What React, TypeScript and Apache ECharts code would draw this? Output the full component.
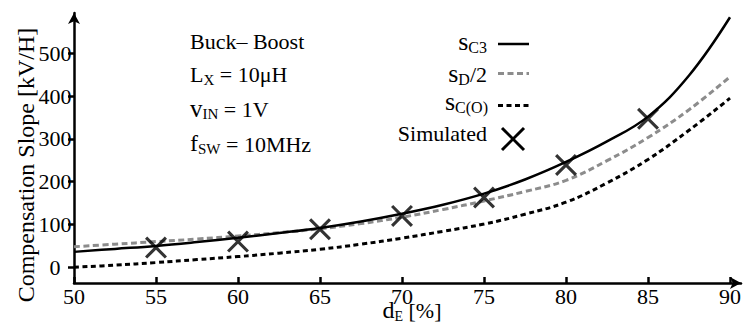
import React, { useEffect, useRef } from "react";
import * as echarts from "echarts";

const FONT = '"Liberation Serif", "Times New Roman", serif';

// Duty cycle d_E [%] sample points of the analytic curves
const X_VALUES = [50, 52.5, 55, 57.5, 60, 62.5, 65, 67.5, 70, 72.5, 75, 77.5, 80, 82.5, 85, 87.5, 90];
// s_C3 (solid black)
const S_C3 = [36, 43, 50, 59, 69, 80, 92, 107, 125, 146, 172, 205, 246, 294, 352, 448, 584];
// s_D/2 (grey dashed)
const S_D_HALF = [48, 54, 60, 66, 73, 81, 90, 102, 117, 135, 155, 177, 203, 249, 303, 368, 445];
// s_C(O) (black dashed)
const S_CO = [0, 5, 11, 18, 25, 33, 42, 54, 68, 84, 101, 124, 152, 197, 252, 320, 395];
// Simulated points
const SIM_X = [55, 60, 65, 70, 75, 80, 85];
const SIM_Y = [46, 60, 89, 120, 163, 239, 347];

const X_TICKS = [50, 55, 60, 65, 70, 75, 80, 85, 90];
const Y_TICKS = [0, 100, 200, 300, 400, 500];

const X_SYMBOL = "path://M0,1L1,0L10,9L9,10Z M9,0L10,1L1,10L0,9Z";

let measureCtx: CanvasRenderingContext2D | null = null;
function tw(text: string, size: number): number {
  if (!measureCtx) measureCtx = document.createElement("canvas").getContext("2d");
  measureCtx!.font = `${size}px "Liberation Serif"`;
  return measureCtx!.measureText(text).width;
}

type Seg = { t: string; size: number; dy?: number };
function richText(x: number, baseline: number, segs: Seg[], align: "left" | "right" | "center" = "left") {
  const widths = segs.map((s) => tw(s.t, s.size));
  const total = widths.reduce((a, b) => a + b, 0);
  let cx = align === "right" ? x - total : align === "center" ? x - total / 2 : x;
  const els: any[] = [];
  segs.forEach((s, i) => {
    els.push({
      type: "text",
      x: cx,
      y: baseline + (s.dy || 0) - 0.3375 * s.size,
      silent: true,
      style: {
        text: s.t,
        fontSize: s.size,
        fontFamily: FONT,
        fill: "#000",
        align: "left",
        verticalAlign: "middle",
      },
    });
    cx += widths[i];
  });
  return els;
}

export default function App() {
  const ref = useRef<HTMLDivElement>(null);
  useEffect(() => {
    const chart = echarts.init(ref.current!, null, { renderer: "svg" });

    const graphics: any[] = [];
    // y axis name
    graphics.push({
      type: "text",
      x: 26,
      y: 165,
      rotation: Math.PI / 2,
      silent: true,
      style: {
        text: "Compensation Slope [kV/H]",
        fontSize: 24,
        fontFamily: FONT,
        fill: "#000",
        align: "center",
        verticalAlign: "middle",
      },
    });
    // x axis name
    graphics.push(
      ...richText(412, 318, [
        { t: "d", size: 24 },
        { t: "E", size: 14, dy: 3 },
        { t: " [%]", size: 22 },
      ], "center")
    );
    // annotation block
    graphics.push(...richText(190, 49, [{ t: "Buck– Boost", size: 22 }]));
    graphics.push(
      ...richText(190, 82, [
        { t: "L", size: 22 },
        { t: "X", size: 15, dy: 3 },
        { t: " = 10μH", size: 22 },
      ])
    );
    graphics.push(
      ...richText(190, 116.5, [
        { t: "v", size: 25 },
        { t: "IN", size: 15, dy: 3 },
        { t: " = 1V", size: 22 },
      ])
    );
    graphics.push(
      ...richText(190, 151.5, [
        { t: "f", size: 24 },
        { t: "SW", size: 15, dy: 3 },
        { t: " = 10MHz", size: 22 },
      ])
    );
    // legend
    graphics.push(
      ...richText(487, 50, [
        { t: "s", size: 26 },
        { t: "C3", size: 16, dy: 3 },
      ], "right")
    );
    graphics.push(
      ...richText(487, 82, [
        { t: "s", size: 26 },
        { t: "D", size: 16, dy: 3 },
        { t: "/2", size: 22 },
      ], "right")
    );
    graphics.push(
      ...richText(488, 110, [
        { t: "s", size: 26 },
        { t: "C(O)", size: 16, dy: 3 },
      ], "right")
    );
    graphics.push(...richText(487, 141, [{ t: "Simulated", size: 22 }], "right"));
    graphics.push({
      type: "line",
      silent: true,
      shape: { x1: 498, y1: 44, x2: 529, y2: 44 },
      style: { stroke: "#000", lineWidth: 2.5 },
    });
    graphics.push({
      type: "line",
      silent: true,
      shape: { x1: 498, y1: 73.5, x2: 529, y2: 73.5 },
      style: { stroke: "#8c8c8c", lineWidth: 3, lineDash: [6, 3.5] },
    });
    graphics.push({
      type: "line",
      silent: true,
      shape: { x1: 498, y1: 105.5, x2: 529, y2: 105.5 },
      style: { stroke: "#000", lineWidth: 3, lineDash: [5, 3.5] },
    });
    graphics.push({
      type: "line",
      silent: true,
      shape: { x1: 502, y1: 128, x2: 524, y2: 150 },
      style: { stroke: "#000", lineWidth: 3 },
    });
    graphics.push({
      type: "line",
      silent: true,
      shape: { x1: 524, y1: 128, x2: 502, y2: 150 },
      style: { stroke: "#000", lineWidth: 3 },
    });

    const option: any = {
      animation: false,
      backgroundColor: "#fff",
      grid: { left: 74, right: 2, top: 13, bottom: 41, containLabel: false, outerBoundsMode: "none" },
      xAxis: {
        type: "value",
        min: 50,
        max: 90.67,
        interval: 5,
        splitLine: { show: false },
        axisLine: {
          show: true,
          onZero: false,
          symbol: ["none", "arrow"],
          symbolSize: [9, 11],
          lineStyle: { color: "#000", width: 2.5 },
        },
        axisTick: {
          show: true,
          inside: true,
          length: 6,
          customValues: X_TICKS,
          lineStyle: { color: "#000", width: 2.5 },
        },
        axisLabel: {
          show: true,
          margin: 2,
          customValues: X_TICKS,
          color: "#000",
          fontSize: 22,
          fontFamily: FONT,
          formatter: (v: number) => String(v),
        },
      },
      yAxis: {
        type: "value",
        min: -36.7,
        max: 594,
        splitLine: { show: false },
        axisLine: {
          show: true,
          onZero: false,
          symbol: ["none", "arrow"],
          symbolSize: [9, 11],
          lineStyle: { color: "#000", width: 2.5 },
        },
        axisTick: {
          show: true,
          inside: false,
          length: 6,
          customValues: Y_TICKS,
          lineStyle: { color: "#000", width: 2.5 },
        },
        axisLabel: {
          show: true,
          margin: 19,
          align: "center",
          customValues: Y_TICKS,
          color: "#000",
          fontSize: 22,
          fontFamily: FONT,
          formatter: (v: number) => String(v),
        },
      },
      graphic: graphics,
      series: [
        {
          name: "sC3",
          type: "line",
          data: X_VALUES.map((x, i) => [x, S_C3[i]]),
          smooth: 0.4,
          symbol: "none",
          lineStyle: { color: "#000", width: 2.5 },
          z: 3,
        },
        {
          name: "sD/2",
          type: "line",
          data: X_VALUES.map((x, i) => [x, S_D_HALF[i]]),
          smooth: 0.4,
          symbol: "none",
          lineStyle: { color: "#8c8c8c", width: 3, type: [6, 3.5] },
          z: 2,
        },
        {
          name: "sC(O)",
          type: "line",
          data: X_VALUES.map((x, i) => [x, S_CO[i]]),
          smooth: 0.4,
          symbol: "none",
          lineStyle: { color: "#000", width: 3, type: [5, 3.5] },
          z: 2,
        },
        {
          name: "Simulated",
          type: "scatter",
          data: SIM_X.map((x, i) => [x, SIM_Y[i]]),
          symbol: X_SYMBOL,
          symbolSize: 22,
          itemStyle: { color: "#000" },
          z: 4,
        },
      ],
    };
    chart.setOption(option);
    return () => chart.dispose();
  }, []);
  return (
    <div
      ref={ref}
      style={{ position: "absolute", left: 0, top: 0, width: 743, height: 324 }}
    />
  );
}
